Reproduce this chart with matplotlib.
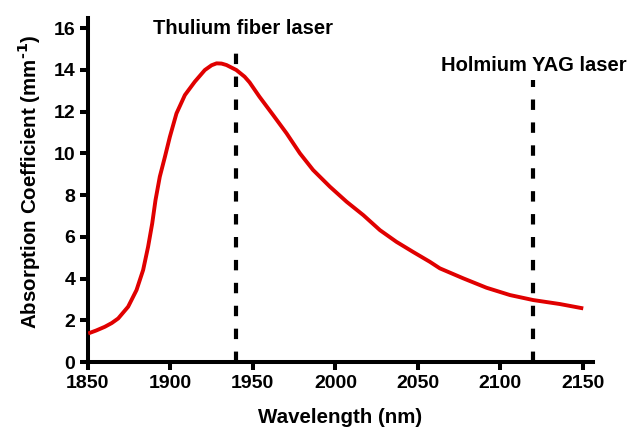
import matplotlib
matplotlib.use("Agg")
import matplotlib.pyplot as plt

plt.rcParams["font.family"] = ["Liberation Sans", "DejaVu Sans"]
plt.rcParams["font.weight"] = "bold"
plt.rcParams["mathtext.default"] = "bf"

# water absorption spectrum
wavelength = [1850.2, 1855.0, 1860.3, 1864.5, 1868.4, 1874.4, 1879.5, 1883.5,
              1886.5, 1889.0, 1891.0, 1893.6, 1896.7, 1899.7, 1903.7, 1908.8,
              1914.8, 1920.9, 1925.0, 1928.0, 1931.0, 1934.0, 1940.0, 1945.0,
              1948.0, 1954.0, 1962.3, 1970.4, 1978.5, 1986.5, 1996.7, 2006.8,
              2016.9, 2027.0, 2037.0, 2047.0, 2057.3, 2063.3, 2077.5, 2091.6,
              2105.8, 2119.9, 2136.0, 2150.2]
absorption = [1.37, 1.51, 1.69, 1.87, 2.09, 2.65, 3.45, 4.41,
              5.52, 6.64, 7.76, 8.88, 9.83, 10.79, 11.91, 12.79,
              13.43, 13.99, 14.22, 14.31, 14.30, 14.23, 13.99, 13.67,
              13.40, 12.71, 11.83, 10.96, 10.00, 9.20, 8.40, 7.68,
              7.04, 6.32, 5.76, 5.28, 4.80, 4.49, 4.01, 3.56,
              3.21, 2.97, 2.78, 2.57]

laser_names = ["Thulium fiber laser", "Holmium YAG laser"]
laser_wl = [1940, 2120]
laser_top = [14.85, 13.5]
label_x = [1944, 2120]
label_y = [16.0, 14.23]

fig = plt.figure(figsize=(6.32, 4.30), dpi=100)
ax = fig.add_axes([0.139, 0.158, 0.799, 0.80])

ax.plot(wavelength, absorption, color="#e00000", linewidth=2.8,
        solid_joinstyle="round", solid_capstyle="butt", zorder=3)

for wl, top in zip(laser_wl, laser_top):
    ax.plot([wl, wl], [0, top], color="black", linewidth=3.0,
            linestyle=(0, (2.5, 3.0)), dash_capstyle="butt", zorder=2)
for name, x, y in zip(laser_names, label_x, label_y):
    ax.text(x, y, name, ha="center", va="center", fontsize=14.5, fontweight="bold")

ax.set_xlim(1850, 2156)
ax.set_ylim(0, 16.48)
ax.set_xticks([1850, 1900, 1950, 2000, 2050, 2100, 2150])
ax.set_yticks([0, 2, 4, 6, 8, 10, 12, 14, 16])

for s in ["top", "right"]:
    ax.spines[s].set_visible(False)
for s in ["left", "bottom"]:
    ax.spines[s].set_linewidth(2.9)
ax.tick_params(width=2.9, length=6, labelsize=14, pad=3)
for lab in ax.get_xticklabels() + ax.get_yticklabels():
    lab.set_fontweight("bold")

ax.set_xlabel("Wavelength (nm)", fontsize=14.8, fontweight="bold", labelpad=12)
ax.set_ylabel("Absorption Coefficient (mm$^{\\text{-1}}$)", fontsize=14.8,
              fontweight="bold")
ax.yaxis.set_label_coords(-0.088, 0.523)

fig.savefig("out.png", dpi=100)
